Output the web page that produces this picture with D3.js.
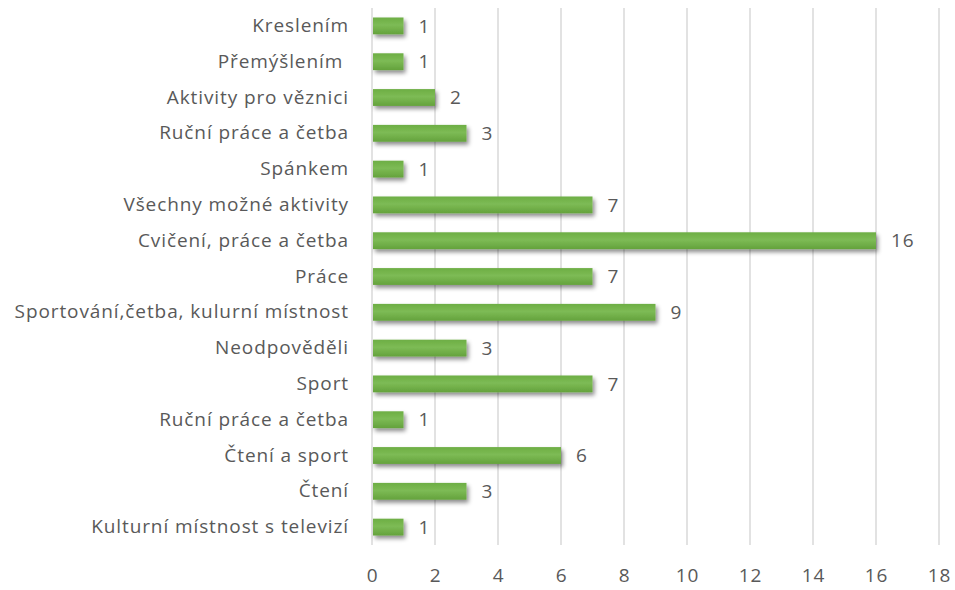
<!DOCTYPE html>
<html>
<head>
<meta charset="utf-8">
<script src="https://cdn.jsdelivr.net/npm/d3@7"></script>
<style>
  html, body { margin: 0; padding: 0; background: #fff; }
  svg text { font-family: "Open Sans", sans-serif; fill: #595959; white-space: pre; letter-spacing: 0.9px; }
</style>
</head>
<body>
<svg id="chart" width="955" height="590"></svg>
<script>
// Activity categories, listed top to bottom
const categories = [
  "Kreslením",
  "Přemýšlením ",
  "Aktivity pro věznici",
  "Ruční práce a četba",
  "Spánkem",
  "Všechny možné aktivity",
  "Cvičení, práce a četba",
  "Práce",
  "Sportování,četba, kulurní místnost",
  "Neodpověděli",
  "Sport",
  "Ruční práce a četba",
  "Čtení a sport",
  "Čtení",
  "Kulturní místnost s televizí"
];
const counts = [1, 1, 2, 3, 1, 7, 16, 7, 9, 3, 7, 1, 6, 3, 1];
const xTicks = [0, 2, 4, 6, 8, 10, 12, 14, 16, 18];

const FONT = "'Open Sans', sans-serif";
const FS = 19;
const svg = d3.select("#chart");
const rows = categories.map((c, i) => ({ i, label: c, value: counts[i] }));

const x = d3.scaleLinear().domain([0, 18]).range([372, 939]);
const y = d3.scaleBand().domain(rows.map(d => d.i)).range([8, 545]).paddingInner(0.53).paddingOuter(0.265);

// Bar fill and shadow
const defs = svg.append("defs");
const grad = defs.append("linearGradient").attr("id", "barGrad")
  .attr("x1", 0).attr("y1", 0).attr("x2", 0).attr("y2", 1);
grad.append("stop").attr("offset", "0%").attr("stop-color", "#6dae44");
grad.append("stop").attr("offset", "45%").attr("stop-color", "#7dbb55");
grad.append("stop").attr("offset", "100%").attr("stop-color", "#64a23c");
const shadow = defs.append("filter").attr("id", "barShadow")
  .attr("x", "-10%").attr("y", "-50%").attr("width", "130%").attr("height", "250%");
shadow.append("feDropShadow").attr("dx", 2).attr("dy", 3).attr("stdDeviation", 2)
  .attr("flood-color", "#000").attr("flood-opacity", 0.45);

// Vertical gridlines
svg.append("g").selectAll("line").data(xTicks).join("line")
  .attr("x1", d => x(d)).attr("x2", d => x(d))
  .attr("y1", 8).attr("y2", 545)
  .attr("stroke", "#d9d9d9").attr("stroke-width", 1.5);

// Bottom axis tick labels
const xAxis = d3.axisBottom(x).tickValues(xTicks).tickSize(0).tickPadding(0);
const gx = svg.append("g").attr("transform", "translate(0,568)").call(xAxis);
gx.select(".domain").remove();
gx.selectAll("text").attr("font-size", FS).attr("dy", "0.71em").style("fill", "#595959")
  .style("font-family", FONT);

// Category labels
const yAxis = d3.axisLeft(y).tickFormat(i => categories[i]).tickSize(0).tickPadding(0);
const gy = svg.append("g").attr("transform", "translate(349,0)").call(yAxis);
gy.select(".domain").remove();
gy.selectAll("text").attr("font-size", FS).style("fill", "#595959")
  .style("font-family", FONT);

// Bars
svg.append("g").selectAll("rect").data(rows).join("rect")
  .attr("x", x(0) + 1)
  .attr("y", d => y(d.i))
  .attr("width", d => x(d.value) - x(0) - 1)
  .attr("height", y.bandwidth())
  .attr("fill", "url(#barGrad)")
  .attr("filter", "url(#barShadow)");

// Value labels
svg.append("g").selectAll("text").data(rows).join("text")
  .attr("x", d => x(d.value) + 15)
  .attr("y", d => y(d.i) + y.bandwidth() / 2)
  .attr("dy", "0.35em")
  .attr("font-size", FS)
  .text(d => d.value);
</script>
</body>
</html>
